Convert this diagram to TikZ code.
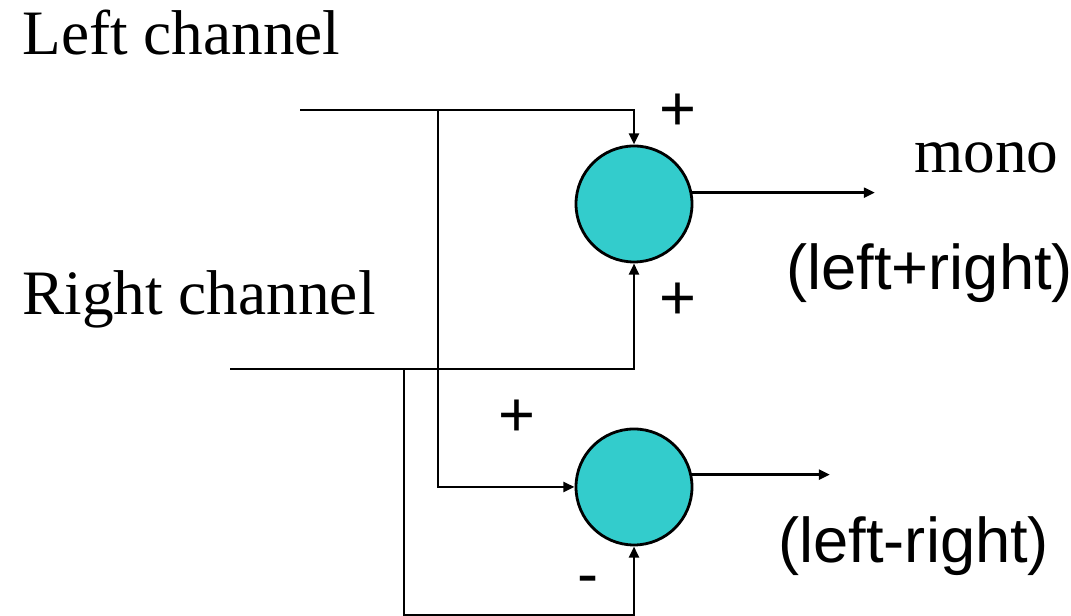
\documentclass[tikz,border=0pt]{standalone}
\usepackage{fontspec}
\setmainfont{Liberation Serif}
\setsansfont{Liberation Sans}
\usetikzlibrary{arrows.meta}
\tikzset{every picture/.style={line width=0.8pt}}
\definecolor{sumfill}{HTML}{33CCCC}

\begin{document}
\begin{tikzpicture}[>={Triangle[length=3.2pt,width=2.8pt]},
        every node/.style={font=\fontsize{18}{20}\selectfont},
        sum/.style={circle, draw, fill=sumfill, minimum size=1.16cm, inner sep=0pt},
        sign/.style={anchor=base, font=\fontsize{18}{20}\sffamily}]
        \useasboundingbox (0,0) rectangle (10.71,6.16);
        \node[anchor=base west, inner sep=0pt] (lch) at (0.21, 5.61) {Left channel};
        \node[anchor=base west, inner sep=0pt] (rch) at (0.21, 3.01) {Right channel};
        \node[sum] (s1) at (6.34, 4.12) {};
        \node[sum] (s2) at (6.34, 1.29) {};
        \coordinate (lin)  at (3.00, 5.06);
        \coordinate (lj)   at (4.38, 5.06);
        \coordinate (rin)  at (2.30, 2.47);
        \coordinate (rj)   at (4.04, 2.47);
        \coordinate (rbot) at (4.04, 0.01);
        \coordinate (o1)   at (8.75, 4.23);
        \coordinate (o2)   at (8.30, 1.41);
        \draw[->] (lin) -| (s1.north);
        \draw[->] (rin) -| (s1.south);
        \draw[->] (lj) |- (s2.west);
        \draw[->] (rj) -- (rbot) -| (s2.south);
        \draw[->] (s1.11) -- (s1.11 -| o1);
        \draw[->] (s2.12) -- (s2.12 -| o2);
        \node[sign] (p1) at (6.78, 4.85) {+};
        \node[sign] (p2) at (6.78, 2.96) {+};
        \node[sign] (p3) at (5.17, 1.79) {+};
        \node[sign] (m1) at (5.88, 0.20) {-};
        \node[anchor=base west, inner sep=0pt] (mono) at (9.13, 4.43) {mono};
        \node[anchor=base west, inner sep=0pt, font=\fontsize{18}{20}\sffamily] (sumtxt) at (7.85, 3.26) {(left+right)};
        \node[anchor=base west, inner sep=0pt, font=\fontsize{18}{20}\sffamily] (diftxt) at (7.77, 0.53) {(left-right)};
\end{tikzpicture}
\end{document}
